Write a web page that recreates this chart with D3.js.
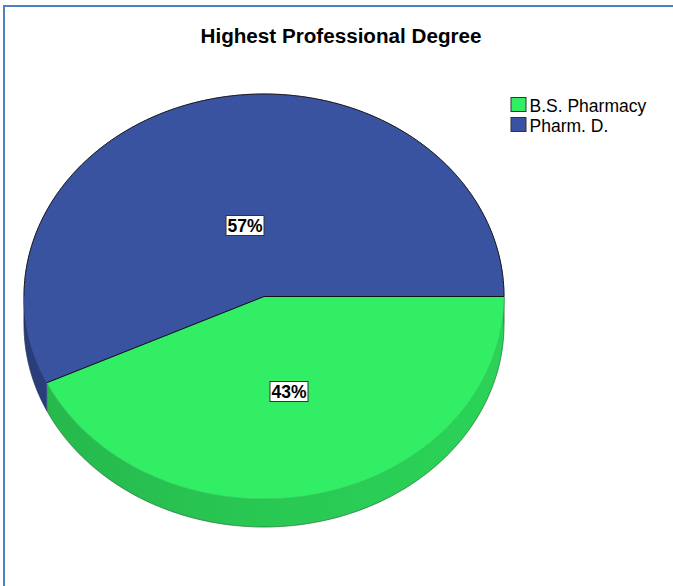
<!DOCTYPE html>
<html>
<head>
<meta charset="utf-8">
<script src="https://cdn.jsdelivr.net/npm/d3@7/dist/d3.min.js"></script>
<style>
html,body{margin:0;padding:0;background:#fff;}
svg{display:block;}
</style>
</head>
<body>
<script>
const categories = ["B.S. Pharmacy", "Pharm. D."];
const percentValues = [43, 57];
const labelTexts = ["43%", "57%"];
const chartTitle = "Highest Professional Degree";

const W = 673, H = 586;
const topColors = ["#32EE64", "#3A53A0"];
const sideColors = ["#29C853", "#2D4386"];
const cx = 264, cy = 296.5, rx = 240, ry = 202.5, depth = 28;

const svg = d3.select("body").append("svg").attr("width", W).attr("height", H);

// frame
svg.append("line").attr("x1", 3).attr("x2", W).attr("y1", 6).attr("y2", 6)
  .attr("stroke", "#4F81BD").attr("stroke-width", 2);
svg.append("line").attr("x1", 4).attr("x2", 4).attr("y1", 5).attr("y2", H)
  .attr("stroke", "#4F81BD").attr("stroke-width", 2);

// title
svg.append("text").attr("x", 341).attr("y", 43).attr("text-anchor", "middle")
  .attr("font-family", "Liberation Sans, Arial, sans-serif").attr("font-weight", "bold")
  .attr("font-size", 19.5).attr("textLength", 281).attr("lengthAdjust", "spacingAndGlyphs")
  .attr("fill", "#000").text(chartTitle);

const pie = d3.pie().sort(null).value(d => d)
  .startAngle(Math.PI / 2).endAngle(Math.PI / 2 + 2 * Math.PI);
const arcs = pie(percentValues);

const px = a => cx + rx * Math.sin(a);
const py = (a, off = 0) => cy - ry * Math.cos(a) + off;
const sample = (a0, a1, n) => d3.range(n + 1).map(i => a0 + (a1 - a0) * i / n);
const line = d3.line();

// side walls (visible front half: angle PI/2 .. 3PI/2)
const defs = svg.append("defs");
arcs.forEach((d, i) => {
  const a0 = Math.max(d.startAngle, Math.PI / 2);
  const a1 = Math.min(d.endAngle, 3 * Math.PI / 2);
  if (a1 <= a0) return;
  const g = defs.append("linearGradient").attr("id", "side" + i)
    .attr("gradientUnits", "userSpaceOnUse")
    .attr("x1", cx - rx).attr("x2", cx + rx).attr("y1", 0).attr("y2", 0);
  const c = d3.color(sideColors[i]);
  g.append("stop").attr("offset", "0%").attr("stop-color", c.darker(0.25));
  g.append("stop").attr("offset", "50%").attr("stop-color", c);
  g.append("stop").attr("offset", "100%").attr("stop-color", c.brighter(0.15));
  const s = sample(a0, a1, 80);
  const pts = s.map(a => [px(a), py(a)]).concat(s.slice().reverse().map(a => [px(a), py(a, depth)]));
  svg.append("path").attr("d", line(pts) + "Z").attr("fill", `url(#side${i})`)
    .attr("stroke", sideColors[i]).attr("stroke-width", 0.5);
});

// side silhouette
{
  const s = sample(Math.PI / 2, 3 * Math.PI / 2, 160);
  svg.append("path").attr("d", line(s.map(a => [px(a), py(a, depth)])))
    .attr("fill", "none").attr("stroke", "#1a1a1a").attr("stroke-opacity", 0.35).attr("stroke-width", 1);
  svg.append("path").attr("d", line([[px(Math.PI / 2), py(Math.PI / 2)], [px(Math.PI / 2), py(Math.PI / 2, depth)]]))
    .attr("stroke", "#1a1a1a").attr("stroke-opacity", 0.5);
  svg.append("path").attr("d", line([[px(3 * Math.PI / 2), py(3 * Math.PI / 2)], [px(3 * Math.PI / 2), py(3 * Math.PI / 2, depth)]]))
    .attr("stroke", "#1a1a1a").attr("stroke-opacity", 0.5);
}

// top faces
arcs.forEach((d, i) => {
  const s = sample(d.startAngle, d.endAngle, 200);
  const pts = [[cx, cy]].concat(s.map(a => [px(a), py(a)]));
  svg.append("path").attr("d", line(pts) + "Z").attr("fill", topColors[i])
    .attr("stroke", topColors[i]).attr("stroke-width", 0.5);
});

// outlines: back rim and radial edges
{
  const s = sample(-Math.PI / 2, Math.PI / 2, 160);
  svg.append("path").attr("d", line(s.map(a => [px(a), py(a)])))
    .attr("fill", "none").attr("stroke", "#1a1a1a").attr("stroke-width", 1);
  const s2 = sample(Math.PI / 2, 3 * Math.PI / 2, 160);
  svg.append("path").attr("d", line(s2.map(a => [px(a), py(a)])))
    .attr("fill", "none").attr("stroke", "#1a1a1a").attr("stroke-opacity", 0.15).attr("stroke-width", 1);
  arcs.forEach(d => {
    svg.append("path").attr("d", line([[cx, cy], [px(d.startAngle), py(d.startAngle)]]))
      .attr("stroke", "#111").attr("stroke-width", 1);
  });
}

// labels
const labelFrac = 0.42, lcx = cx + 3, lcy = cy + 12;
arcs.forEach((d, i) => {
  const m = (d.startAngle + d.endAngle) / 2;
  const x = lcx + rx * labelFrac * Math.sin(m);
  const y = lcy - ry * labelFrac * Math.cos(m);
  const g = svg.append("g").attr("transform", `translate(${x},${y})`);
  g.append("rect").attr("x", -19).attr("y", -10).attr("width", 38).attr("height", 20)
    .attr("fill", "#fff").attr("stroke", "#333").attr("stroke-width", 1);
  g.append("text").attr("text-anchor", "middle").attr("dy", "0.36em")
    .attr("font-family", "Liberation Sans, Arial, sans-serif").attr("font-weight", "bold")
    .attr("font-size", 17.5).attr("fill", "#000").text(labelTexts[i]);
});

// legend
const leg = svg.append("g");
categories.forEach((c, i) => {
  const y0 = 97.5 + i * 20;
  leg.append("rect").attr("x", 511).attr("y", y0).attr("width", 15).attr("height", 14)
    .attr("fill", topColors[i]).attr("stroke", "#333").attr("stroke-width", 1);
  leg.append("text").attr("x", 529.5).attr("y", y0 + 14)
    .attr("font-family", "Liberation Sans, Arial, sans-serif").attr("font-size", 17.5)
    .attr("fill", "#000").text(c);
});
</script>
</body>
</html>
